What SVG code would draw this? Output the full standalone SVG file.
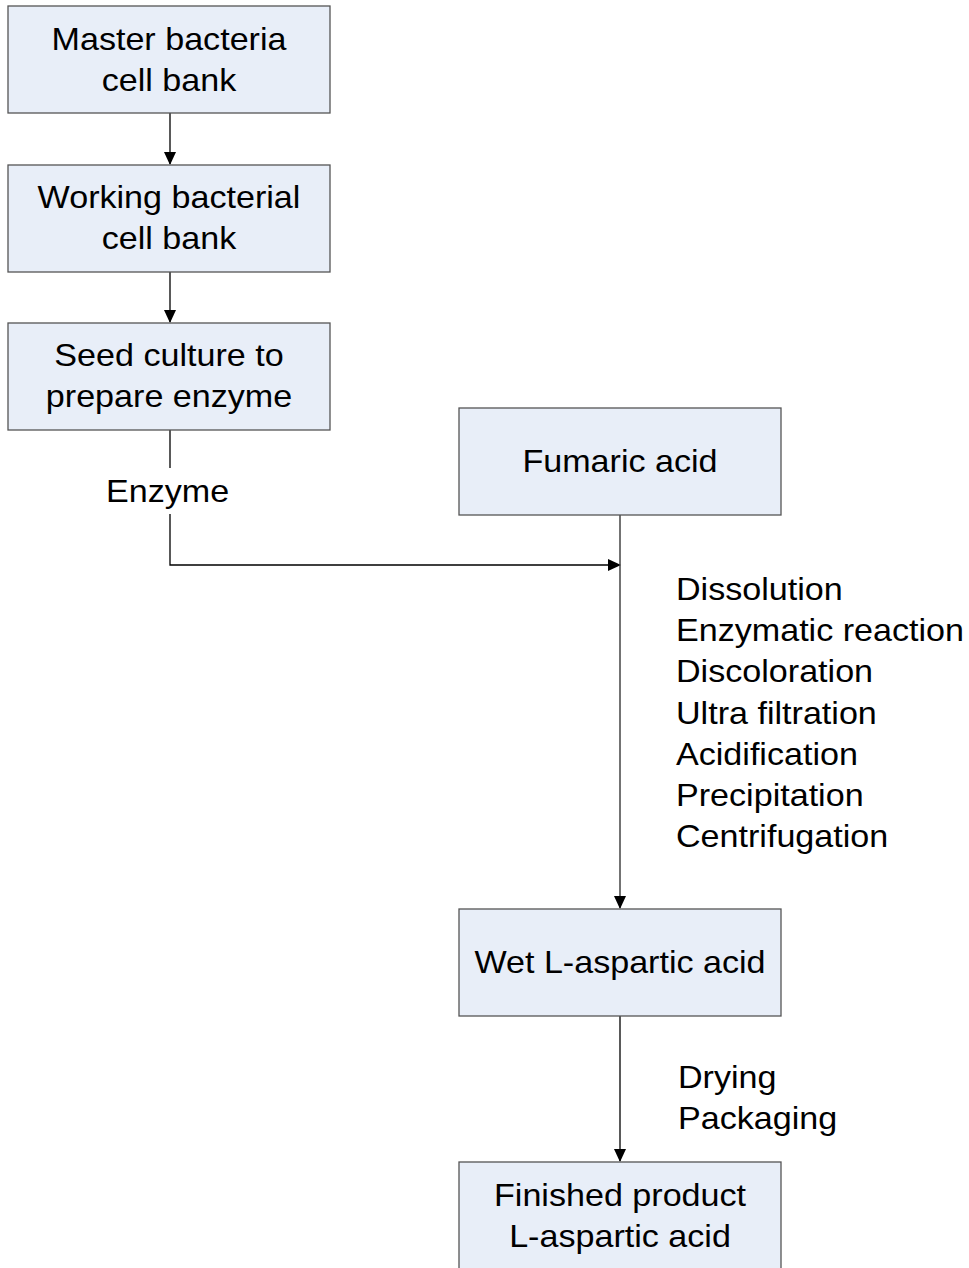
<svg xmlns="http://www.w3.org/2000/svg" width="969" height="1268" viewBox="0 0 969 1268">
<style>
.box{fill:#E8EEF8;stroke:#555;stroke-width:1.3}
.t{font-family:"Liberation Sans",Arial,sans-serif;font-size:31px;fill:#000}
.c{text-anchor:middle}
.ln{fill:none;stroke:#000;stroke-width:1.3}
.lg{fill:none;stroke:#444;stroke-width:1.5}
</style>
<defs>
<marker id="ah" markerWidth="13" markerHeight="12" refX="12" refY="6" orient="auto" markerUnits="userSpaceOnUse">
<path d="M0,0 L13,6 L0,12 Z" fill="#000"/>
</marker>
</defs>
<rect width="969" height="1268" fill="#fff"/>
<g id="connectors">
<line class="ln" x1="170" y1="113" x2="170" y2="164" marker-end="url(#ah)"/>
<line class="ln" x1="170" y1="272" x2="170" y2="322" marker-end="url(#ah)"/>
<line class="ln" x1="170" y1="430" x2="170" y2="468"/>
<polyline class="ln" points="170,514 170,565 620,565" marker-end="url(#ah)"/>
<line class="lg" x1="620" y1="515" x2="620" y2="908" marker-end="url(#ah)"/>
<line class="ln" x1="620" y1="1016" x2="620" y2="1161" marker-end="url(#ah)"/>
<text class="t" transform="translate(106,502) scale(1.1,1)">Enzyme</text>
<text class="t" transform="translate(676,600) scale(1.1,1)">Dissolution</text>
<text class="t" transform="translate(676,641) scale(1.1,1)">Enzymatic reaction</text>
<text class="t" transform="translate(676,682) scale(1.1,1)">Discoloration</text>
<text class="t" transform="translate(676,724) scale(1.1,1)">Ultra filtration</text>
<text class="t" transform="translate(676,765) scale(1.1,1)">Acidification</text>
<text class="t" transform="translate(676,806) scale(1.1,1)">Precipitation</text>
<text class="t" transform="translate(676,847) scale(1.1,1)">Centrifugation</text>
<text class="t" transform="translate(678,1088) scale(1.1,1)">Drying</text>
<text class="t" transform="translate(678,1129) scale(1.1,1)">Packaging</text>
</g>
<g id="n1"><rect class="box" x="8" y="6" width="322" height="107"/>
<text class="t c" transform="translate(169,50) scale(1.1,1)">Master bacteria</text><text class="t c" transform="translate(169,91) scale(1.1,1)">cell bank</text></g>
<g id="n2"><rect class="box" x="8" y="165" width="322" height="107"/>
<text class="t c" transform="translate(169,208) scale(1.1,1)">Working bacterial</text><text class="t c" transform="translate(169,249) scale(1.1,1)">cell bank</text></g>
<g id="n3"><rect class="box" x="8" y="323" width="322" height="107"/>
<text class="t c" transform="translate(169,366) scale(1.1,1)">Seed culture to</text><text class="t c" transform="translate(169,407) scale(1.1,1)">prepare enzyme</text></g>
<g id="n4"><rect class="box" x="459" y="408" width="322" height="107"/>
<text class="t c" transform="translate(620,472) scale(1.1,1)">Fumaric acid</text></g>
<g id="n5"><rect class="box" x="459" y="909" width="322" height="107"/>
<text class="t c" transform="translate(620,973) scale(1.1,1)">Wet L-aspartic acid</text></g>
<g id="n6"><rect class="box" x="459" y="1162" width="322" height="120"/>
<text class="t c" transform="translate(620,1206) scale(1.1,1)">Finished product</text><text class="t c" transform="translate(620,1247) scale(1.1,1)">L-aspartic acid</text></g>
</svg>
